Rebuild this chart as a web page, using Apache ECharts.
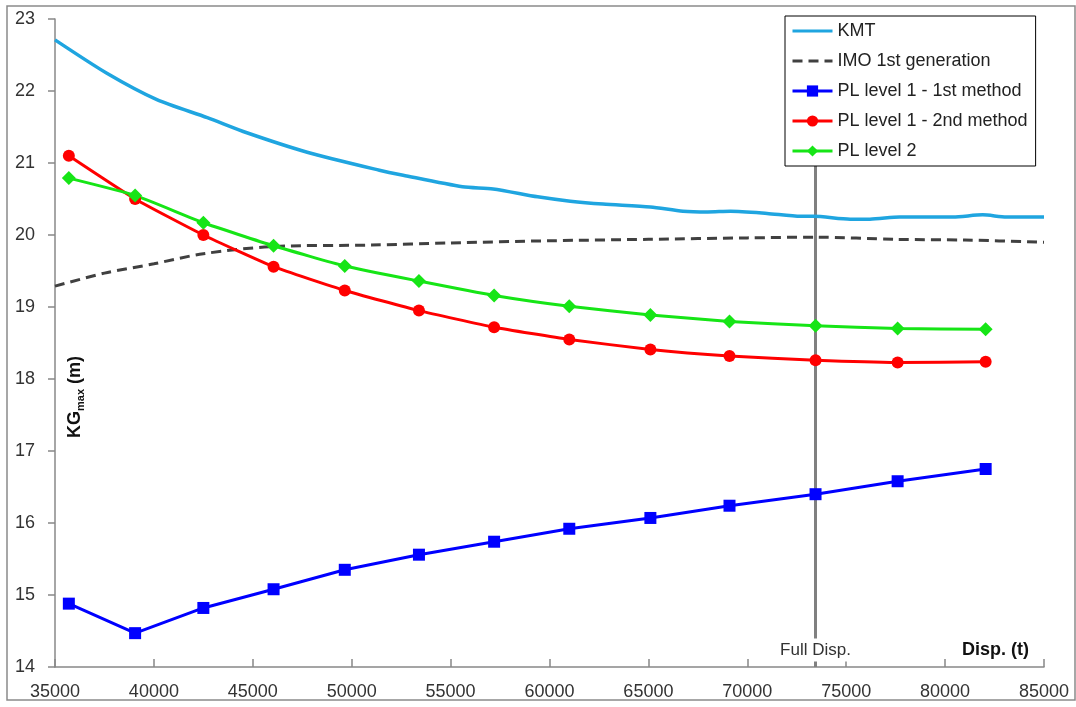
<!DOCTYPE html>
<html>
<head>
<meta charset="utf-8">
<script src="https://cdn.jsdelivr.net/npm/echarts@6/dist/echarts.min.js"></script>
<style>
html,body{margin:0;padding:0;background:#fff;}
#c{width:1076px;height:707px;}
</style>
</head>
<body>
<div id="c"></div>
<script>
// ---- data ----
var dispPL = [35700, 39050, 42500, 46050, 49650, 53400, 57200, 61000, 65100, 69100, 73450, 77600, 82050];
var pl1m1 = [14.88, 14.47, 14.82, 15.08, 15.35, 15.56, 15.74, 15.92, 16.07, 16.24, 16.40, 16.58, 16.75];
var pl1m2 = [21.10, 20.50, 20.00, 19.56, 19.23, 18.95, 18.72, 18.55, 18.41, 18.32, 18.26, 18.23, 18.24];
var pl2   = [20.79, 20.55, 20.17, 19.85, 19.57, 19.36, 19.16, 19.01, 18.89, 18.80, 18.74, 18.70, 18.69];

var dispKMT = [35000, 37600, 40150, 42700, 44700, 47750, 51400, 52600, 55600, 57150, 59400, 61050, 62700, 65100, 66750, 68000, 69150, 71000, 72700, 73350, 75200, 76200, 77700, 80400, 81900, 83100, 85000];
var kmt     = [22.71, 22.25, 21.88, 21.63, 21.42, 21.15, 20.90, 20.83, 20.67, 20.64, 20.53, 20.47, 20.43, 20.39, 20.33, 20.32, 20.33, 20.30, 20.26, 20.26, 20.22, 20.22, 20.25, 20.25, 20.28, 20.25, 20.25];

var dispIMO = [35000, 37500, 40000, 42500, 46000, 51000, 55000, 60000, 65000, 70000, 73500, 77500, 81000, 85000];
var imo     = [19.29, 19.47, 19.60, 19.74, 19.84, 19.86, 19.89, 19.92, 19.94, 19.96, 19.97, 19.94, 19.93, 19.90];

var fullDisp = 73450;
var xTicks = {min: 35000, max: 85000, step: 5000};
var yTicks = {min: 14, max: 23, step: 1};

function pairs(xs, ys){ return xs.map(function(x,i){ return [x, ys[i]]; }); }

var FONT = "'Liberation Sans', Arial, sans-serif";
var chart = echarts.init(document.getElementById('c'), null, {renderer: 'canvas'});

var option = {
  animation: false,
  backgroundColor: '#fff',
  textStyle: {fontFamily: FONT},
  grid: {left: 55, right: 32, top: 19, bottom: 40, containLabel: false},
  legend: {
    orient: 'vertical', left: 785, top: 16, z: 20,
    backgroundColor: '#fff', borderColor: '#000', borderWidth: 1,
    padding: [6, 8, 6, 6],
    itemWidth: 40, itemHeight: 14, itemGap: 12,
    selectedMode: false,
    lineStyle: {width: 3},
    textStyle: {fontSize: 18, color: '#222', fontFamily: FONT},
    data: [
      {name: 'KMT', itemStyle: {opacity: 0}},
      {name: 'IMO 1st generation', itemStyle: {opacity: 0}},
      'PL level 1 - 1st method', 'PL level 1 - 2nd method', 'PL level 2'
    ]
  },
  xAxis: {
    type: 'value', min: xTicks.min, max: xTicks.max, interval: xTicks.step,
    axisLine: {lineStyle: {color: '#888', width: 1.5}},
    axisTick: {inside: true, length: 8, lineStyle: {color: '#888', width: 1.5}},
    axisLabel: {fontSize: 18, color: '#333', margin: 16, fontFamily: FONT,
      formatter: function(v){ return String(v); }},
    splitLine: {show: false}
  },
  yAxis: {
    type: 'value', min: yTicks.min, max: yTicks.max, interval: yTicks.step,
    axisLine: {show: true, lineStyle: {color: '#888', width: 1.5}},
    axisTick: {show: true, length: 7, lineStyle: {color: '#888', width: 1.5}},
    axisLabel: {fontSize: 18, color: '#333', margin: 20, fontFamily: FONT},
    splitLine: {show: false}
  },
  series: [
    {
      name: 'KMT', type: 'line', data: pairs(dispKMT, kmt), showSymbol: false, symbol: 'none',
      smooth: 0.25, lineStyle: {color: '#1fa5e0', width: 3.5}, itemStyle: {color: '#1fa5e0'}, z: 3,
      markLine: {
        silent: true, symbol: 'none', label: {show: false}, z: 1,
        lineStyle: {color: '#808080', width: 3, type: 'solid'},
        data: [{xAxis: fullDisp}]
      }
    },
    {
      name: 'IMO 1st generation', type: 'line', data: pairs(dispIMO, imo), showSymbol: false, symbol: 'none',
      smooth: 0.3, lineStyle: {color: '#404040', width: 3, type: [10, 6]}, itemStyle: {color: '#404040'}, z: 3
    },
    {
      name: 'PL level 1 - 1st method', type: 'line', data: pairs(dispPL, pl1m1),
      symbol: 'rect', symbolSize: 12, smooth: false,
      lineStyle: {color: '#0000ff', width: 3}, itemStyle: {color: '#0000ff'}, z: 4
    },
    {
      name: 'PL level 1 - 2nd method', type: 'line', data: pairs(dispPL, pl1m2),
      symbol: 'circle', symbolSize: 12, smooth: 0.15,
      lineStyle: {color: '#ff0000', width: 3}, itemStyle: {color: '#ff0000'}, z: 4
    },
    {
      name: 'PL level 2', type: 'line', data: pairs(dispPL, pl2),
      symbol: 'diamond', symbolSize: 14, smooth: 0.15,
      lineStyle: {color: '#16e516', width: 3}, itemStyle: {color: '#16e516'}, z: 4
    }
  ]
};
chart.setOption(option);

var fdPx = chart.convertToPixel({gridIndex: 0}, [fullDisp, yTicks.min]);
var rightPx = chart.convertToPixel({gridIndex: 0}, [xTicks.max, yTicks.min]);
chart.setOption({
  graphic: [
    {type: 'rect', shape: {x: 7, y: 6, width: 1068, height: 694}, style: {fill: 'none', stroke: '#8a8a8a', lineWidth: 1.5}, z: 0, silent: true},
    {type: 'text', x: fdPx[0], y: 650, z: 10,
      style: {text: 'Full Disp.', font: '17px ' + FONT, fill: '#333', align: 'center', verticalAlign: 'middle',
        backgroundColor: '#fff', padding: [3, 2]}},
    {type: 'text', x: rightPx[0] - 15, y: 650, z: 10,
      style: {text: 'Disp. (t)', font: 'bold 18px ' + FONT, fill: '#111', align: 'right', verticalAlign: 'middle'}},
    {type: 'text', x: 75, y: 397, rotation: Math.PI / 2, z: 10,
      style: {
        text: '{a|KG}{b|max}{a| (m)}', align: 'center', verticalAlign: 'middle', fill: '#111',
        rich: {
          a: {fontSize: 18, fontWeight: 'bold', fontFamily: FONT, lineHeight: 22, fill: '#111'},
          b: {fontSize: 11, fontWeight: 'bold', fontFamily: FONT, lineHeight: 13, verticalAlign: 'bottom', fill: '#111'}
        }
      }}
  ]
});
</script>
</body>
</html>
